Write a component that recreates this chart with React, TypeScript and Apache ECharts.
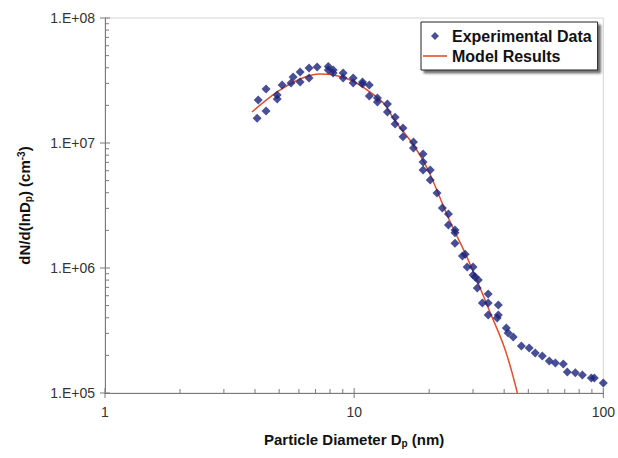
import React, { useEffect, useRef } from "react";
import * as echarts from "echarts";

// Experimental data (particle diameter nm, dN/dlnDp cm^-3)
const expDiameter = [
  4.08, 4.12, 4.43, 4.43, 4.91, 4.91, 5.14, 5.58, 5.69, 6.07, 6.07, 6.59, 6.59, 7.10, 7.87, 7.87,
  8.24, 8.24, 9.03, 9.03, 9.91, 9.91, 10.8, 10.8, 11.5, 11.5, 12.4, 12.4, 13.6, 13.6, 14.6, 14.6,
  15.7, 15.7, 17.3, 17.3, 18.9, 18.9, 18.9, 20.2, 20.2, 21.5, 22.6, 23.9, 23.9, 25.4, 25.4, 25.4,
  27.2, 27.9, 28.4, 30.0, 30.0, 30.6, 31.5, 31.2, 34.5, 32.7, 34.5, 34.5, 37.9, 37.9, 37.5, 40.8,
  41.5, 43.5, 46.9, 50.4, 53.3, 56.9, 60.7, 64.2, 69.1, 71.7, 77.2, 82.4, 89.5, 92.0, 100,
];
const expDensity = [
  1.58e7, 2.21e7, 2.70e7, 1.80e7, 2.42e7, 2.25e7, 2.91e7, 3.02e7, 3.37e7, 3.70e7, 3.08e7, 3.98e7, 3.31e7, 4.06e7, 4.10e7, 3.84e7,
  3.84e7, 3.63e7, 3.63e7, 3.31e7, 3.31e7, 3.02e7, 3.08e7, 2.96e7, 2.91e7, 2.38e7, 2.29e7, 2.13e7, 2.05e7, 1.77e7, 1.61e7, 1.42e7,
  1.32e7, 1.12e7, 1.02e7, 9.12e6, 8.17e6, 7.05e6, 6.08e6, 6.08e6, 5.06e6, 3.98e6, 3.02e6, 2.70e6, 2.21e6, 2.01e6, 1.91e6, 1.58e6,
  1.25e6, 1.29e6, 1.02e6, 1.02e6, 8.79e5, 8.47e5, 8.02e5, 6.92e5, 6.19e5, 5.25e5, 5.25e5, 4.21e5, 5.06e5, 4.21e5, 3.98e5, 3.31e5,
  3.02e5, 2.81e5, 2.38e5, 2.29e5, 2.09e5, 1.98e5, 1.80e5, 1.74e5, 1.71e5, 1.47e5, 1.45e5, 1.39e5, 1.32e5, 1.32e5, 1.20e5,
];

// Model results
const modelDiameter = [3.89, 4.91, 6.07, 7.30, 8.24, 9.64, 11.3, 13.1, 14.6, 17.3, 19.8, 23.9, 28.7, 35.2, 40.4, 45.2];
const modelDensity = [1.77e7, 2.56e7, 3.25e7, 3.56e7, 3.50e7, 3.19e7, 2.65e7, 2.09e7, 1.50e7, 9.64e6, 6.08e6, 2.51e6, 1.16e6, 4.37e5, 2.21e5, 1.0e5];

// Axis ticks
const xMajorTicks = [1, 10, 100];
const xMinorTicks = [2, 3, 4, 5, 6, 7, 8, 9, 20, 30, 40, 50, 60, 70, 80, 90];
const yMajorTicks = [1e5, 1e6, 1e7, 1e8];
const yMinorTicks = [
  2e5, 3e5, 4e5, 5e5, 6e5, 7e5, 8e5, 9e5,
  2e6, 3e6, 4e6, 5e6, 6e6, 7e6, 8e6, 9e6,
  2e7, 3e7, 4e7, 5e7, 6e7, 7e7, 8e7, 9e7,
];
const yTickLabels: Record<string, string> = {
  "5": "1.E+05",
  "6": "1.E+06",
  "7": "1.E+07",
  "8": "1.E+08",
};

const FONT = 'Arial, "Liberation Sans", sans-serif';
const AXIS_COLOR = "#7a7a7a";

export default function App() {
  const ref = useRef<HTMLDivElement>(null);

  useEffect(() => {
    if (!ref.current) return;
    const chart = echarts.init(ref.current, undefined, { renderer: "svg" });

    chart.setOption({
      animation: false,
      backgroundColor: "#ffffff",
      grid: {
        left: 105,
        right: 14,
        top: 18,
        bottom: 65,
        show: true,
        borderColor: "#d4d4d4",
        borderWidth: 1,
      },
      legend: {
        left: 421,
        top: 22,
        orient: "vertical",
        backgroundColor: "#ffffff",
        borderColor: "#222",
        borderWidth: 1,
        shadowColor: "rgba(0,0,0,0.55)",
        shadowOffsetX: 3,
        shadowOffsetY: 3,
        shadowBlur: 2,
        padding: [6, 6, 6, 2],
        itemGap: 4,
        itemWidth: 24,
        itemHeight: 8,
        symbolKeepAspect: true,
        textStyle: { fontFamily: FONT, fontSize: 16, fontWeight: "bold", color: "#111" },
        data: [
          { name: "Experimental Data", icon: "path://M3,0 L6,3 L3,6 L0,3 Z" },
          { name: "Model Results", icon: "path://M0,0 L24,0 L24,1.6 L0,1.6 Z" },
        ],
      },
      xAxis: {
        type: "log",
        logBase: 10,
        min: 1,
        max: 100,
        name: "Particle Diameter D{sub|p} (nm)",
        nameLocation: "middle",
        nameGap: 38,
        nameTextStyle: {
          fontFamily: FONT,
          fontSize: 15,
          fontWeight: "bold",
          color: "#111",
          rich: {
            sub: { fontFamily: FONT, fontSize: 10, fontWeight: "bold", color: "#111", verticalAlign: "bottom", padding: [7, 0, 0, 0] },
          },
        },
        axisLine: { show: true, lineStyle: { color: AXIS_COLOR, width: 1 } },
        axisTick: { show: false },
        minorTick: { show: false },
        splitLine: { show: false },
        axisLabel: { fontFamily: FONT, fontSize: 14, color: "#333", margin: 12 },
      },
      yAxis: {
        type: "log",
        logBase: 10,
        min: 1e5,
        max: 1e8,
        name: "dN/d(lnD{sub|p}) (cm{sup|-3})",
        nameLocation: "middle",
        nameRotate: 90,
        nameGap: 72,
        nameTextStyle: {
          fontFamily: FONT,
          fontSize: 15,
          fontWeight: "bold",
          color: "#111",
          rich: {
            sub: { fontFamily: FONT, fontSize: 10, fontWeight: "bold", color: "#111", verticalAlign: "bottom", padding: [7, 0, 0, 0] },
            sup: { fontFamily: FONT, fontSize: 10, fontWeight: "bold", color: "#111", verticalAlign: "top", padding: [0, 0, 7, 0] },
          },
        },
        axisLine: { show: true, lineStyle: { color: AXIS_COLOR, width: 1 } },
        axisTick: { show: false },
        minorTick: { show: false },
        splitLine: { show: false },
        axisLabel: {
          fontFamily: FONT,
          fontSize: 14,
          color: "#333",
          margin: 10,
          formatter: (v: number) => yTickLabels[String(Math.round(Math.log10(v)))] ?? "",
        },
      },
      series: [
        {
          name: "Model Results",
          type: "line",
          data: modelDiameter.map((d, i) => [d, modelDensity[i]]),
          smooth: 0.35,
          showSymbol: false,
          symbol: "none",
          z: 3,
          lineStyle: { color: "#e0502e", width: 1.5 },
          itemStyle: { color: "#e0502e" },
        },
        {
          name: "Experimental Data",
          type: "scatter",
          data: expDiameter.map((d, i) => [d, expDensity[i]]),
          symbol: "diamond",
          symbolSize: 9,
          z: 4,
          itemStyle: { color: "#1a237a" },
        },
      ],
    });

    // Axis ticks positioned through the chart's own scales
    const tickEls: any[] = [];
    const addTick = (x1: number, y1: number, x2: number, y2: number) =>
      tickEls.push({
        type: "line",
        silent: true,
        z: 10,
        shape: { x1, y1, x2, y2 },
        style: { stroke: AXIS_COLOR, lineWidth: 1 },
      });
    xMajorTicks.forEach((v) => {
      const p = chart.convertToPixel({ gridIndex: 0 }, [v, 1e5]) as number[];
      addTick(p[0], p[1] - 5, p[0], p[1] + 5);
    });
    xMinorTicks.forEach((v) => {
      const p = chart.convertToPixel({ gridIndex: 0 }, [v, 1e5]) as number[];
      addTick(p[0], p[1] - 4, p[0], p[1]);
    });
    yMajorTicks.forEach((v) => {
      const p = chart.convertToPixel({ gridIndex: 0 }, [1, v]) as number[];
      addTick(p[0] - 5, p[1], p[0] + 5, p[1]);
    });
    yMinorTicks.forEach((v) => {
      const p = chart.convertToPixel({ gridIndex: 0 }, [1, v]) as number[];
      addTick(p[0], p[1], p[0] + 4, p[1]);
    });
    chart.setOption({ graphic: { elements: tickEls } });

    return () => chart.dispose();
  }, []);

  return (
    <div
      ref={ref}
      style={{ position: "fixed", left: 0, top: 0, width: 618, height: 458, background: "#fff" }}
    />
  );
}
